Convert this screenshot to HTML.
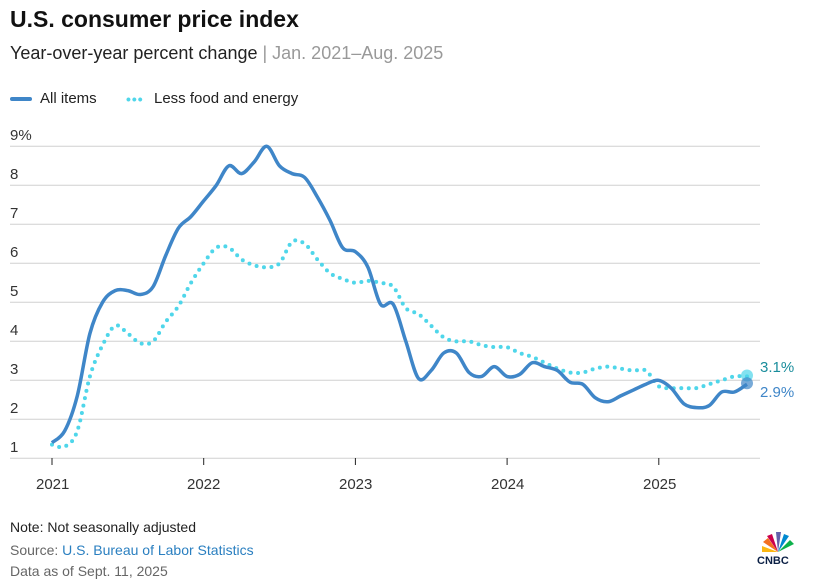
<!DOCTYPE html>
<html><head><meta charset="utf-8"><style>
body{margin:0;background:#fff;width:813px;height:585px;overflow:hidden;font-family:"Liberation Sans",sans-serif;color:#222}
.t{position:absolute;white-space:nowrap}
</style></head><body>
<div class="t" style="left:10px;top:6px;font-size:23px;font-weight:bold;color:#111">U.S. consumer price index</div>
<div class="t" style="left:10px;top:43px;font-size:18px;color:#222">Year-over-year percent change <span style="color:#999">| Jan. 2021–Aug. 2025</span></div>
<div class="t" style="left:10px;top:90px;font-size:15px;"><span style="display:inline-block;width:22px;height:4px;background:#3f86c8;vertical-align:middle;margin-right:8px;border-radius:2px"></span>All items</div>
<div class="t" style="left:126px;top:90px;font-size:15px;"><span style="display:inline-block;width:20px;vertical-align:middle;margin-right:8px;letter-spacing:1px;color:#4fd6ea;font-weight:bold;font-size:14px;line-height:4px">•••</span>Less food and energy</div>
<svg id="c" width="813" height="585" style="position:absolute;left:0;top:0">
<g stroke="#d0d0d0" stroke-width="1" id="grid"></g>
<g id="xt"></g>
<path id="core" fill="none" stroke="#4fd6ea" stroke-width="4" stroke-linecap="round" stroke-dasharray="0 7.5"/>
<path id="all" fill="none" stroke="#3f86c8" stroke-width="3.5" stroke-linejoin="round"/>
<circle cx="747" cy="375.5" r="6" fill="#4fd6ea" opacity="0.7"/>
<circle cx="747" cy="383.3" r="6" fill="#3f86c8" opacity="0.7"/>
<text x="760" y="372" font-size="15" fill="#1a8d9c">3.1%</text>
<text x="760" y="397" font-size="15" fill="#3f86c8">2.9%</text>
<text x="36" y="489" font-size="15" fill="#333">2021</text>
<text x="187" y="489" font-size="15" fill="#333">2022</text>
<text x="339" y="489" font-size="15" fill="#333">2023</text>
<text x="491" y="489" font-size="15" fill="#333">2024</text>
<text x="643" y="489" font-size="15" fill="#333">2025</text>
<text x="10" y="140" font-size="15" fill="#333">9%</text>
<text x="10" y="179" font-size="15" fill="#333">8</text>
<text x="10" y="218" font-size="15" fill="#333">7</text>
<text x="10" y="257" font-size="15" fill="#333">6</text>
<text x="10" y="296" font-size="15" fill="#333">5</text>
<text x="10" y="335" font-size="15" fill="#333">4</text>
<text x="10" y="374" font-size="15" fill="#333">3</text>
<text x="10" y="413" font-size="15" fill="#333">2</text>
<text x="10" y="452" font-size="15" fill="#333">1</text>
<g transform="translate(760,532)">
<path d="M18 20 L8 6 L3 10 Z" fill="#f37021"/><path d="M18 20 L12 2 L7 4 Z" fill="#cc004c"/>
<path d="M18 20 L16 0 L21 0 Z" fill="#6460aa"/><path d="M18 20 L24 2 L29 4 Z" fill="#0089d0"/>
<path d="M18 20 L30 8 L34 12 Z" fill="#0db14b"/><path d="M18 20 L2 14 L2 20 Z" fill="#fcb711"/>
<text x="-3" y="32" font-size="11" font-weight="bold" fill="#0a1f44">CNBC</text>
</g>
</svg>
<div class="t" style="left:10px;top:519px;font-size:14px;color:#222">Note: Not seasonally adjusted</div>
<div class="t" style="left:10px;top:542px;font-size:14px;color:#666">Source: <span style="color:#2a7fc0">U.S. Bureau of Labor Statistics</span></div>
<div class="t" style="left:10px;top:563px;font-size:14px;color:#666">Data as of Sept. 11, 2025</div>
<script>
var Y=v=>458.3-(v-1)*39;
var g=document.getElementById('grid'),s='';
for(var v=1;v<=9;v++)s+='<line x1="10" x2="760" y1="'+Y(v)+'" y2="'+Y(v)+'"/>';
g.innerHTML=s;
var xt='';for(var k=0;k<5;k++){var x=52+k*151.7;xt+='<line x1="'+x+'" x2="'+x+'" y1="458" y2="465" stroke="#222" stroke-width="1"/>';}
document.getElementById('xt').innerHTML=xt;
var all=[1.4,1.7,2.6,4.2,5.0,5.3,5.3,5.2,5.4,6.2,6.9,7.2,7.6,8.0,8.5,8.3,8.6,9.0,8.5,8.3,8.2,7.7,7.1,6.4,6.3,5.9,4.95,4.95,4.0,3.05,3.25,3.7,3.7,3.2,3.1,3.35,3.1,3.15,3.45,3.35,3.25,2.95,2.9,2.55,2.45,2.6,2.75,2.9,3.0,2.8,2.4,2.3,2.35,2.7,2.7,2.9];
var core=[1.35,1.3,1.7,3.1,3.9,4.4,4.2,3.95,4.0,4.5,4.9,5.5,6.0,6.4,6.4,6.1,5.95,5.9,6.0,6.55,6.5,6.1,5.75,5.6,5.5,5.55,5.5,5.4,4.85,4.7,4.4,4.1,4.0,4.0,3.9,3.85,3.85,3.7,3.6,3.45,3.3,3.2,3.2,3.3,3.35,3.3,3.25,3.25,2.85,2.8,2.8,2.8,2.9,3.0,3.1,3.1];
function path(d){var n=d.length,p=d.map((v,i)=>[52+i*(695/(n-1)),Y(v)]),s='M'+p[0].join(',');
for(var i=0;i<n-1;i++){var a=p[i-1]||p[i],b=p[i],c=p[i+1],e=p[i+2]||c;
s+=' C'+(b[0]+(c[0]-a[0])/6)+','+(b[1]+(c[1]-a[1])/6)+' '+(c[0]-(e[0]-b[0])/6)+','+(c[1]-(e[1]-b[1])/6)+' '+c[0]+','+c[1];}return s;}
document.getElementById('all').setAttribute('d',path(all));
document.getElementById('core').setAttribute('d',path(core));
</script>
</body></html>
